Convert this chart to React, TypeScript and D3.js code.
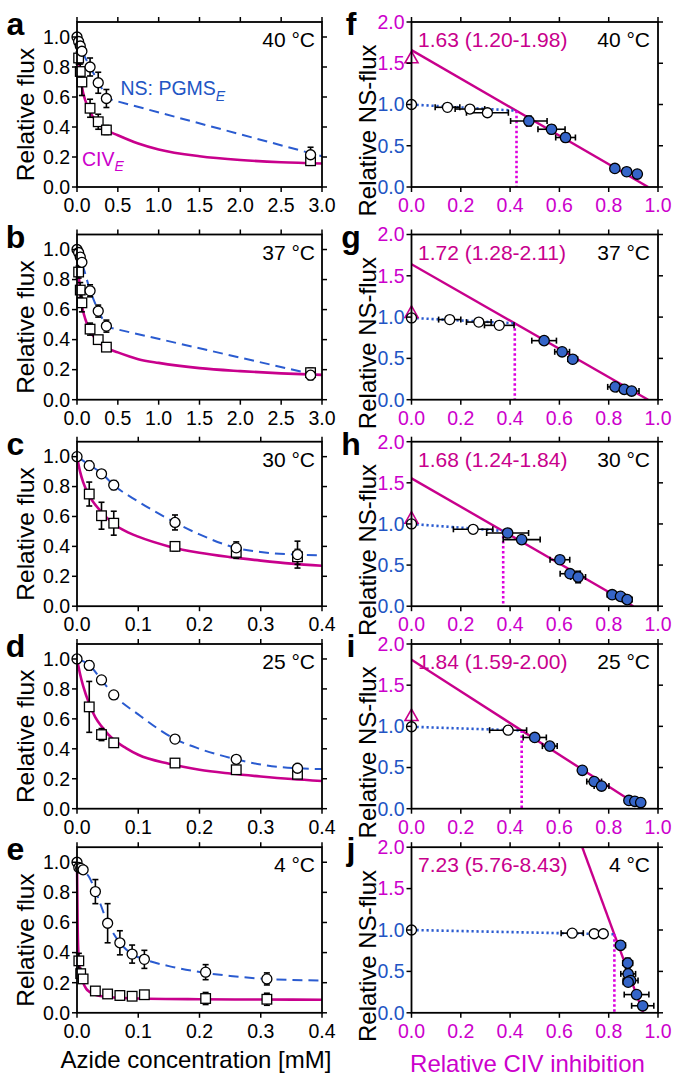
import React from 'react';
import * as d3 from 'd3';

type P2 = [number, number];
type P3 = [number, number, number];
type P4 = [number, number, number, number];

// ---------- tick values ----------
const leftYTicks = [0, 0.2, 0.4, 0.6, 0.8, 1.0];
const wideXTicks = [0, 0.5, 1.0, 1.5, 2.0, 2.5, 3.0];
const narrowXTicks = [0, 0.1, 0.2, 0.3, 0.4];
const rightXTicks = [0, 0.2, 0.4, 0.6, 0.8, 1.0];
const rightYTicks = [0, 0.5, 1.0, 1.5, 2.0];

const temps = ['40 °C', '37 °C', '30 °C', '25 °C', '4 °C'];
const slopeLabels = ['1.63 (1.20-1.98)', '1.72 (1.28-2.11)', '1.68 (1.24-1.84)', '1.84 (1.59-2.00)', '7.23 (5.76-8.43)'];
const leftLetters = ['a', 'b', 'c', 'd', 'e'];
const rightLetters = ['f', 'g', 'h', 'i', 'j'];

// ---------- left column: [azide mM, relative flux, ±err] ----------
const aNS: P3[] = [[0, 1.0, 0], [0.02, 0.97, 0], [0.04, 0.94, 0], [0.06, 0.905, 0], [0.16, 0.80, 0.06], [0.26, 0.695, 0.07], [0.36, 0.59, 0.06], [2.86, 0.215, 0.05]];
const aCIV: P3[] = [[0.02, 0.86, 0.04], [0.04, 0.77, 0.05], [0.06, 0.70, 0.09], [0.16, 0.525, 0.06], [0.26, 0.435, 0.05], [0.36, 0.38, 0.03], [2.86, 0.175, 0.03]];
const aCIVFit: P2[] = [[0, 1.0], [0.02, 0.86], [0.04, 0.76], [0.06, 0.67], [0.1, 0.58], [0.16, 0.5], [0.25, 0.43], [0.36, 0.38], [0.5, 0.345], [0.75, 0.29], [1.0, 0.25], [1.5, 0.205], [2.0, 0.18], [2.5, 0.165], [3.0, 0.157]];
const aNSLine: P2[] = [[0, 1.0], [0.02, 0.97], [0.04, 0.94], [0.06, 0.905], [0.16, 0.80], [0.26, 0.70], [0.36, 0.60], [0.4, 0.585], [3.0, 0.205]];

const bNS: P3[] = [[0, 1.0, 0], [0.02, 0.98, 0], [0.04, 0.95, 0], [0.06, 0.915, 0], [0.16, 0.725, 0.04], [0.26, 0.59, 0.04], [0.36, 0.49, 0.04], [2.86, 0.163, 0.03]];
const bCIV: P3[] = [[0.02, 0.85, 0.04], [0.04, 0.73, 0.05], [0.06, 0.645, 0.06], [0.16, 0.47, 0.04], [0.26, 0.40, 0.02], [0.36, 0.35, 0.01], [2.86, 0.18, 0.03]];
const bCIVFit: P2[] = [[0, 1.0], [0.02, 0.84], [0.04, 0.72], [0.06, 0.63], [0.1, 0.54], [0.16, 0.46], [0.26, 0.385], [0.36, 0.345], [0.5, 0.315], [0.75, 0.27], [1.0, 0.245], [1.5, 0.21], [2.0, 0.19], [2.5, 0.175], [3.0, 0.165]];
const bNSLine: P2[] = [[0, 1.0], [0.02, 0.98], [0.04, 0.95], [0.06, 0.915], [0.16, 0.725], [0.26, 0.59], [0.36, 0.49], [0.4, 0.48], [3.0, 0.155]];

const cNS: P3[] = [[0, 1.0, 0], [0.02, 0.94, 0.03], [0.04, 0.885, 0.01], [0.06, 0.81, 0.03], [0.16, 0.56, 0.05], [0.26, 0.39, 0.04], [0.36, 0.345, 0.09]];
const cCIV: P3[] = [[0.02, 0.75, 0.08], [0.04, 0.605, 0.09], [0.06, 0.555, 0.08], [0.16, 0.40, 0.03], [0.26, 0.36, 0.04], [0.36, 0.33, 0.05]];
const cCIVFit: P2[] = [[0, 1.0], [0.005, 0.9], [0.01, 0.83], [0.02, 0.74], [0.04, 0.63], [0.06, 0.55], [0.08, 0.5], [0.1, 0.465], [0.15, 0.4], [0.2, 0.357], [0.25, 0.328], [0.3, 0.305], [0.35, 0.285], [0.4, 0.27]];
const cNSLine: P2[] = [[0, 1.0], [0.02, 0.945], [0.04, 0.89], [0.06, 0.81], [0.1, 0.70], [0.16, 0.56], [0.2, 0.48], [0.26, 0.39], [0.3, 0.362], [0.36, 0.345], [0.4, 0.34]];

const dNS: P3[] = [[0, 1.0, 0], [0.02, 0.957, 0.03], [0.04, 0.86, 0], [0.06, 0.76, 0], [0.16, 0.465, 0], [0.26, 0.33, 0], [0.36, 0.27, 0]];
const dCIV: P3[] = [[0.02, 0.68, 0.17], [0.04, 0.495, 0.04], [0.06, 0.44, 0.01], [0.16, 0.305, 0.01], [0.26, 0.26, 0.01], [0.36, 0.23, 0.01]];
const dCIVFit: P2[] = [[0, 1.0], [0.005, 0.9], [0.01, 0.82], [0.02, 0.70], [0.03, 0.61], [0.04, 0.55], [0.06, 0.46], [0.08, 0.405], [0.1, 0.36], [0.15, 0.30], [0.2, 0.26], [0.25, 0.235], [0.3, 0.215], [0.35, 0.198], [0.4, 0.185]];
const dNSLine: P2[] = [[0, 1.0], [0.02, 0.96], [0.04, 0.86], [0.06, 0.76], [0.1, 0.63], [0.16, 0.465], [0.2, 0.40], [0.26, 0.33], [0.3, 0.295], [0.36, 0.27], [0.4, 0.265]];

const eNS: P3[] = [[0, 1.0, 0], [0.003, 0.965, 0], [0.006, 0.96, 0], [0.01, 0.95, 0], [0.03, 0.805, 0.08], [0.05, 0.595, 0.13], [0.07, 0.465, 0.08], [0.09, 0.39, 0.06], [0.11, 0.355, 0.06], [0.21, 0.27, 0.05], [0.31, 0.225, 0.04]];
const eCIV: P3[] = [[0.003, 0.345, 0.05], [0.006, 0.26, 0.02], [0.01, 0.225, 0.01], [0.03, 0.145, 0.01], [0.05, 0.125, 0.01], [0.07, 0.115, 0.03], [0.09, 0.11, 0.01], [0.11, 0.12, 0.01], [0.21, 0.095, 0.04], [0.31, 0.09, 0.04]];
const eCIVFit: P2[] = [[0, 1.0], [0.001, 0.6], [0.002, 0.42], [0.005, 0.28], [0.01, 0.2], [0.015, 0.16], [0.02, 0.14], [0.03, 0.12], [0.05, 0.105], [0.1, 0.095], [0.2, 0.09], [0.3, 0.088], [0.4, 0.087]];
const eNSLine: P2[] = [[0, 1.0], [0.01, 0.95], [0.02, 0.9], [0.03, 0.81], [0.05, 0.6], [0.07, 0.465], [0.09, 0.39], [0.11, 0.355], [0.15, 0.31], [0.21, 0.265], [0.25, 0.245], [0.31, 0.225], [0.4, 0.215]];

// ---------- right column: [CIV inhibition, NS-flux, ±xErr, ±yErr] ----------
const fOpen: P4[] = [[0, 1.0, 0, 0], [0.146, 0.966, 0.05, 0], [0.237, 0.945, 0.06, 0.01], [0.308, 0.9, 0.085, 0.02]];
const fFilled: P4[] = [[0.476, 0.8, 0.074, 0.06], [0.568, 0.7, 0.055, 0.05], [0.625, 0.6, 0.04, 0.05], [0.825, 0.225, 0.01, 0.04], [0.873, 0.185, 0.01, 0.03], [0.916, 0.157, 0.01, 0.02]];
const fFit: P2[] = [[0, 1.66], [0.96, 0]];
const fThreshold: P2 = [0.426, 0.925];
const fTriangle = 1.56;

const gOpen: P4[] = [[0, 0.99, 0, 0], [0.155, 0.97, 0.045, 0], [0.273, 0.94, 0.05, 0], [0.356, 0.9, 0.06, 0]];
const gFilled: P4[] = [[0.538, 0.715, 0.05, 0.03], [0.611, 0.58, 0.03, 0.04], [0.654, 0.49, 0.02, 0.02], [0.826, 0.155, 0.03, 0.02], [0.863, 0.125, 0.03, 0.02], [0.893, 0.105, 0.03, 0.02]];
const gFit: P2[] = [[0, 1.64], [0.96, 0]];
const gThreshold: P2 = [0.419, 0.925];
const gTriangle = 1.05;

const hOpen: P4[] = [[0, 1.0, 0, 0], [0.25, 0.935, 0.08, 0]];
const hFilled: P4[] = [[0.39, 0.89, 0.085, 0.01], [0.447, 0.81, 0.075, 0.01], [0.602, 0.565, 0.04, 0.04], [0.643, 0.395, 0.04, 0.03], [0.676, 0.355, 0.03, 0.07], [0.814, 0.14, 0.02, 0.02], [0.848, 0.12, 0.02, 0.02], [0.875, 0.08, 0.02, 0.02]];
const hFit: P2[] = [[0, 1.555], [0.9, 0]];
const hThreshold: P2 = [0.372, 0.915];
const hTriangle = 1.065;

const iOpen: P4[] = [[0, 0.995, 0, 0], [0.392, 0.953, 0.075, 0]];
const iFilled: P4[] = [[0.5, 0.865, 0.047, 0.01], [0.561, 0.76, 0.03, 0.01], [0.693, 0.466, 0.01, 0.01], [0.741, 0.33, 0.03, 0.01], [0.771, 0.275, 0.03, 0.01], [0.882, 0.1, 0.01, 0.01], [0.906, 0.09, 0.01, 0.01], [0.93, 0.075, 0.01, 0.01]];
const iFit: P2[] = [[0, 1.81], [0.94, 0]];
const iThreshold: P2 = [0.447, 0.95];
const iTriangle = 1.125;

const jOpen: P4[] = [[0, 1.0, 0, 0], [0.652, 0.962, 0.045, 0], [0.741, 0.955, 0, 0], [0.778, 0.955, 0, 0]];
const jFilled: P4[] = [[0.848, 0.815, 0.02, 0.05], [0.877, 0.6, 0.02, 0.06], [0.879, 0.47, 0.03, 0.04], [0.889, 0.39, 0.03, 0.05], [0.879, 0.37, 0.02, 0.03], [0.913, 0.22, 0.05, 0.03], [0.938, 0.085, 0.045, 0.02]];
const jFit: P2[] = [[0, 7.6], [0.94, 0]];
const jThreshold: P2 = [0.823, 0.948];
const jTriangle: number | null = null;

// ---------- styling ----------
const FONT = '"Liberation Sans", Arial, Helvetica, sans-serif';
const MAG_LINE = '#c8008c';
const MAG_TEXT = '#cc00cc';
const MAG_DOT = '#dd00dd';
const BLUE_LINE = '#2a5bd0';
const BLUE_TEXT = '#2255c4';
const BLUE_FILL = '#3565c8';

const ROWS: [number, number][] = [[22, 187], [234.5, 399.7], [441.7, 606.2], [644, 808.7], [847.2, 1012.8]];
const LX: [number, number] = [77, 322];
const RX: [number, number] = [411.5, 658];
const fmt = d3.format('.1f');

function Frame({ x0, x1, top, bottom, xTicks, yTicks, xs, ys, xColor, yColor }: any) {
  const T = 5;
  return (
    <g>
      <rect x={x0} y={top} width={x1 - x0} height={bottom - top} fill="none" stroke="#000" strokeWidth={1.8} />
      {xTicks.map((t: number, i: number) => (
        <g key={'x' + i}>
          <line x1={xs(t)} x2={xs(t)} y1={bottom} y2={bottom + T} stroke="#000" strokeWidth={1.5} />
          <line x1={xs(t)} x2={xs(t)} y1={top} y2={top - T} stroke="#000" strokeWidth={1.5} />
          <text x={xs(t)} y={bottom + 25} textAnchor="middle" fontSize={19.5} fontFamily={FONT} fill={typeof xColor === 'function' ? xColor(t) : xColor}>{fmt(t)}</text>
        </g>
      ))}
      {yTicks.map((t: number, i: number) => (
        <g key={'y' + i}>
          <line x1={x0} x2={x0 - T} y1={ys(t)} y2={ys(t)} stroke="#000" strokeWidth={1.5} />
          <line x1={x1} x2={x1 + T} y1={ys(t)} y2={ys(t)} stroke="#000" strokeWidth={1.5} />
          <text x={x0 - 7} y={ys(t)} dy="0.35em" textAnchor="end" fontSize={19.5} fontFamily={FONT} fill={typeof yColor === 'function' ? yColor(t) : yColor}>{fmt(t)}</text>
        </g>
      ))}
    </g>
  );
}

function LeftPanel({ row, letter, temp, xMax, xTicks, ns, civ, fit, nsLine, nsCurve, legend }: any) {
  const [top, bottom] = ROWS[row];
  const xs = d3.scaleLinear().domain([0, xMax]).range(LX);
  const ys = d3.scaleLinear().domain([0, 1.1]).range([bottom, top]);
  const fitPath = d3.line<P2>().x(d => xs(d[0])).y(d => ys(d[1])).curve(d3.curveMonotoneX)(fit) || '';
  const nsPath = d3.line<P2>().x(d => xs(d[0])).y(d => ys(d[1])).curve(nsCurve)(nsLine) || '';
  const cap = 3;
  const errs = (pts: P3[], k: string) => pts.filter(p => p[2] > 0).map((p, i) => (
    <g key={k + i} stroke="#000" strokeWidth={1.6}>
      <line x1={xs(p[0])} x2={xs(p[0])} y1={ys(p[1] - p[2])} y2={ys(p[1] + p[2])} />
      <line x1={xs(p[0]) - cap} x2={xs(p[0]) + cap} y1={ys(p[1] - p[2])} y2={ys(p[1] - p[2])} />
      <line x1={xs(p[0]) - cap} x2={xs(p[0]) + cap} y1={ys(p[1] + p[2])} y2={ys(p[1] + p[2])} />
    </g>
  ));
  const cy = (top + bottom) / 2 + 10;
  return (
    <g>
      <text x={15.5} y={top + 13} textAnchor="middle" fontSize={32} fontWeight="bold" fontFamily={FONT}>{letter}</text>
      <text transform={`translate(33.5,${cy}) rotate(-90)`} textAnchor="middle" fontSize={24.5} fontFamily={FONT}>Relative flux</text>
      <path d={fitPath} fill="none" stroke={MAG_LINE} strokeWidth={2.6} />
      <path d={nsPath} fill="none" stroke={BLUE_LINE} strokeWidth={2} strokeDasharray="10,6" />
      {errs(civ, 'ec')}
      {errs(ns, 'en')}
      {civ.map((p: P3, i: number) => (
        <rect key={'s' + i} x={xs(p[0]) - 4.8} y={ys(p[1]) - 4.8} width={9.6} height={9.6} fill="#fff" stroke="#000" strokeWidth={1.3} />
      ))}
      {ns.map((p: P3, i: number) => (
        <circle key={'c' + i} cx={xs(p[0])} cy={ys(p[1])} r={5} fill="#fff" stroke="#000" strokeWidth={1.3} />
      ))}
      <Frame x0={LX[0]} x1={LX[1]} top={top} bottom={bottom} xTicks={xTicks} yTicks={leftYTicks} xs={xs} ys={ys} xColor="#000" yColor="#000" />
      <text x={LX[1] - 7} y={top + 25} textAnchor="end" fontSize={21} fontFamily={FONT}>{temp}</text>
      {legend && (
        <g fontFamily={FONT}>
          <text x={120.5} y={95} fontSize={19.5} fill={BLUE_TEXT}>NS: PGMS<tspan fontSize={14} fontStyle="italic" dy={6}>E</tspan></text>
          <text x={82} y={166} fontSize={19.5} fill={MAG_TEXT}>CIV<tspan fontSize={14} fontStyle="italic" dy={5}>E</tspan></text>
        </g>
      )}
    </g>
  );
}

function RightPanel({ row, letter, temp, slope, open, filled, fit, threshold, triangle }: any) {
  const [top, bottom] = ROWS[row];
  const xs = d3.scaleLinear().domain([0, 1]).range(RX);
  const ys = d3.scaleLinear().domain([0, 2]).range([bottom, top]);
  const line = d3.line<P2>().x(d => xs(d[0])).y(d => ys(d[1]));
  const clipId = 'clip-' + letter;
  const cap = 3;
  const errs = (pts: P4[], k: string) => pts.map((p, i) => (
    <g key={k + i} stroke="#000" strokeWidth={1.6}>
      {p[2] > 0 && <>
        <line x1={xs(p[0] - p[2])} x2={xs(p[0] + p[2])} y1={ys(p[1])} y2={ys(p[1])} />
        <line x1={xs(p[0] - p[2])} x2={xs(p[0] - p[2])} y1={ys(p[1]) - cap} y2={ys(p[1]) + cap} />
        <line x1={xs(p[0] + p[2])} x2={xs(p[0] + p[2])} y1={ys(p[1]) - cap} y2={ys(p[1]) + cap} />
      </>}
      {p[3] > 0 && <>
        <line x1={xs(p[0])} x2={xs(p[0])} y1={ys(p[1] - p[3])} y2={ys(p[1] + p[3])} />
        <line x1={xs(p[0]) - cap} x2={xs(p[0]) + cap} y1={ys(p[1] - p[3])} y2={ys(p[1] - p[3])} />
        <line x1={xs(p[0]) - cap} x2={xs(p[0]) + cap} y1={ys(p[1] + p[3])} y2={ys(p[1] + p[3])} />
      </>}
    </g>
  ));
  const cy = (top + bottom) / 2 + 26;
  const first: P2 = [open[0][0], open[0][1]];
  return (
    <g>
      <defs>
        <clipPath id={clipId}><rect x={RX[0]} y={top} width={RX[1] - RX[0]} height={bottom - top} /></clipPath>
      </defs>
      <text x={351} y={top + 13} textAnchor="middle" fontSize={32} fontWeight="bold" fontFamily={FONT}>{letter}</text>
      <text transform={`translate(376,${cy}) rotate(-90)`} textAnchor="middle" fontSize={24} fontFamily={FONT}>Relative NS-flux</text>
      <path d={line(fit) || ''} fill="none" stroke={MAG_LINE} strokeWidth={2.4} clipPath={`url(#${clipId})`} />
      <path d={line([first, threshold]) || ''} fill="none" stroke={BLUE_LINE} strokeWidth={2.6} strokeDasharray="2.2,2.8" />
      <path d={line([threshold, [threshold[0], 0]]) || ''} fill="none" stroke={MAG_DOT} strokeWidth={2.6} strokeDasharray="2.5,2.5" />
      {errs(open, 'eo')}
      {errs(filled, 'ef')}
      {triangle !== null && (
        <path d={`M${xs(0)},${ys(triangle) - 7} L${xs(0) + 6.5},${ys(triangle) + 4.5} L${xs(0) - 6.5},${ys(triangle) + 4.5} Z`} fill="#fff" stroke={MAG_LINE} strokeWidth={1.6} />
      )}
      {open.map((p: P4, i: number) => (
        <circle key={'o' + i} cx={xs(p[0])} cy={ys(p[1])} r={5} fill="#fff" stroke="#000" strokeWidth={1.3} />
      ))}
      {filled.map((p: P4, i: number) => (
        <circle key={'f' + i} cx={xs(p[0])} cy={ys(p[1])} r={5.2} fill={BLUE_FILL} stroke="#000" strokeWidth={1.3} />
      ))}
      <Frame x0={RX[0]} x1={RX[1]} top={top} bottom={bottom} xTicks={rightXTicks} yTicks={rightYTicks} xs={xs} ys={ys}
        xColor={MAG_TEXT} yColor={(t: number) => (t > 1.2 ? MAG_TEXT : BLUE_TEXT)} />
      <text x={418} y={top + 25} fontSize={21} fontFamily={FONT} fill={MAG_LINE}>{slope}</text>
      <text x={RX[1] - 8} y={top + 25} textAnchor="end" fontSize={21} fontFamily={FONT}>{temp}</text>
    </g>
  );
}

export default function App() {
  const left = [
    { ns: aNS, civ: aCIV, fit: aCIVFit, nsLine: aNSLine, xMax: 3, xTicks: wideXTicks, nsCurve: d3.curveLinear, legend: true },
    { ns: bNS, civ: bCIV, fit: bCIVFit, nsLine: bNSLine, xMax: 3, xTicks: wideXTicks, nsCurve: d3.curveLinear, legend: false },
    { ns: cNS, civ: cCIV, fit: cCIVFit, nsLine: cNSLine, xMax: 0.4, xTicks: narrowXTicks, nsCurve: d3.curveMonotoneX, legend: false },
    { ns: dNS, civ: dCIV, fit: dCIVFit, nsLine: dNSLine, xMax: 0.4, xTicks: narrowXTicks, nsCurve: d3.curveMonotoneX, legend: false },
    { ns: eNS, civ: eCIV, fit: eCIVFit, nsLine: eNSLine, xMax: 0.4, xTicks: narrowXTicks, nsCurve: d3.curveMonotoneX, legend: false },
  ];
  const right = [
    { open: fOpen, filled: fFilled, fit: fFit, threshold: fThreshold, triangle: fTriangle },
    { open: gOpen, filled: gFilled, fit: gFit, threshold: gThreshold, triangle: gTriangle },
    { open: hOpen, filled: hFilled, fit: hFit, threshold: hThreshold, triangle: hTriangle },
    { open: iOpen, filled: iFilled, fit: iFit, threshold: iThreshold, triangle: iTriangle },
    { open: jOpen, filled: jFilled, fit: jFit, threshold: jThreshold, triangle: jTriangle },
  ];
  return (
    <svg width={675} height={1081} style={{ position: 'absolute', left: 0, top: 0, background: '#fff' }} fontFamily={FONT}>
      <rect x={0} y={0} width={675} height={1081} fill="#fff" />
      {left.map((p, i) => (
        <LeftPanel key={'L' + i} row={i} letter={leftLetters[i]} temp={temps[i]} {...p} />
      ))}
      {right.map((p, i) => (
        <RightPanel key={'R' + i} row={i} letter={rightLetters[i]} temp={temps[i]} slope={slopeLabels[i]} {...p} />
      ))}
      <text x={196} y={1068} textAnchor="middle" fontSize={24} fontFamily={FONT}>Azide concentration [mM]</text>
      <text x={527.5} y={1072} textAnchor="middle" fontSize={24} fontFamily={FONT} fill={MAG_TEXT}>Relative CIV inhibition</text>
    </svg>
  );
}
